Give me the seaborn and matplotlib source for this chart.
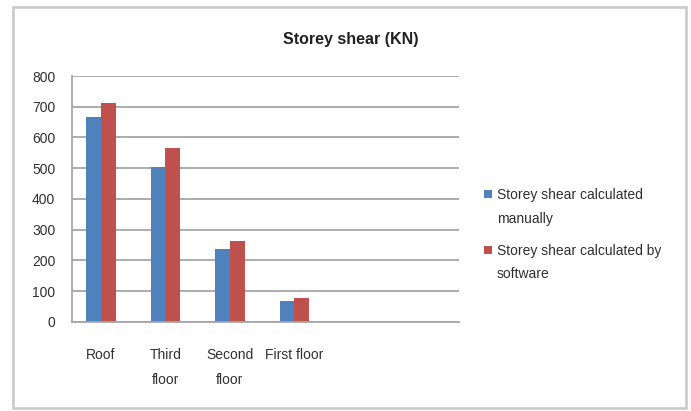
import matplotlib
matplotlib.use("Agg")
import matplotlib.pyplot as plt
from matplotlib.patches import Rectangle
import pandas as pd
import seaborn as sns

# Data
floors = ["Roof", "Third\nfloor", "Second\nfloor", "First floor"]
shear_manual = [668, 505, 236, 67]
shear_software = [711, 565, 264, 79]
series_names = ["Storey shear calculated\nmanually", "Storey shear calculated by\nsoftware"]
y_ticks = [0, 100, 200, 300, 400, 500, 600, 700, 800]

df = pd.DataFrame({
    "floor": floors * 2,
    "shear": shear_manual + shear_software,
    "series": [series_names[0]] * len(floors) + [series_names[1]] * len(floors),
})

sns.set_style("white")
plt.rcParams["font.family"] = ["Liberation Sans", "DejaVu Sans"]

fig = plt.figure(figsize=(6.91, 4.11), dpi=100)
ax = fig.add_axes([0.104, 0.217, 0.560, 0.598])

sns.barplot(data=df, x="floor", y="shear", hue="series", order=floors,
            hue_order=series_names, palette=["#4F81BD", "#C0504D"],
            width=0.46, saturation=1, linewidth=0, ax=ax, legend=True)

# Axis limits, grid and spines (Excel-like)
ax.set_xlim(-0.45, 5.55)
ax.set_ylim(0, 800)
ax.set_yticks(y_ticks)
ax.yaxis.grid(True, color="#A6A6A6", linewidth=1.3)
ax.set_axisbelow(True)
for side in ["top", "right"]:
    ax.spines[side].set_visible(False)
ax.spines["left"].set_color("#A6A6A6")
ax.spines["bottom"].set_color("#A6A6A6")
ax.spines["left"].set_linewidth(1.3)
ax.spines["bottom"].set_linewidth(1.3)
ax.tick_params(axis="y", length=0, pad=12, labelsize=10, labelcolor="#303030")
ax.tick_params(axis="x", length=0, pad=19, labelsize=10, labelcolor="#303030")
for lbl in ax.get_xticklabels():
    lbl.set_linespacing(2.0)
ax.set_xlabel("")
ax.set_ylabel("")

# Title
fig.text(0.508, 0.905, "Storey shear (KN)", ha="center", va="center",
         fontsize=11.5, fontweight="bold", color="#202020")

# Legend to the right
handles, labels = ax.get_legend_handles_labels()
leg = ax.legend(handles, labels, loc="upper left", bbox_to_anchor=(0.693, 0.557),
                bbox_transform=fig.transFigure, frameon=False, fontsize=10,
                handlelength=0.55, handleheight=0.55, handletextpad=0.35,
                labelspacing=1.3, borderaxespad=0)
for txt in leg.get_texts():
    txt.set_linespacing(1.9)
    txt.set_color("#303030")
# move legend keys up to the first text line
for h in leg.legend_handles:
    h.set_y(h.get_y() + 9.5)

# Outer chart border
fig.patches.append(Rectangle((0.019, 0.008), 0.974, 0.975, transform=fig.transFigure,
                             fill=False, edgecolor="#C8C8C8", linewidth=1.8))

fig.savefig("out.png", dpi=100)
